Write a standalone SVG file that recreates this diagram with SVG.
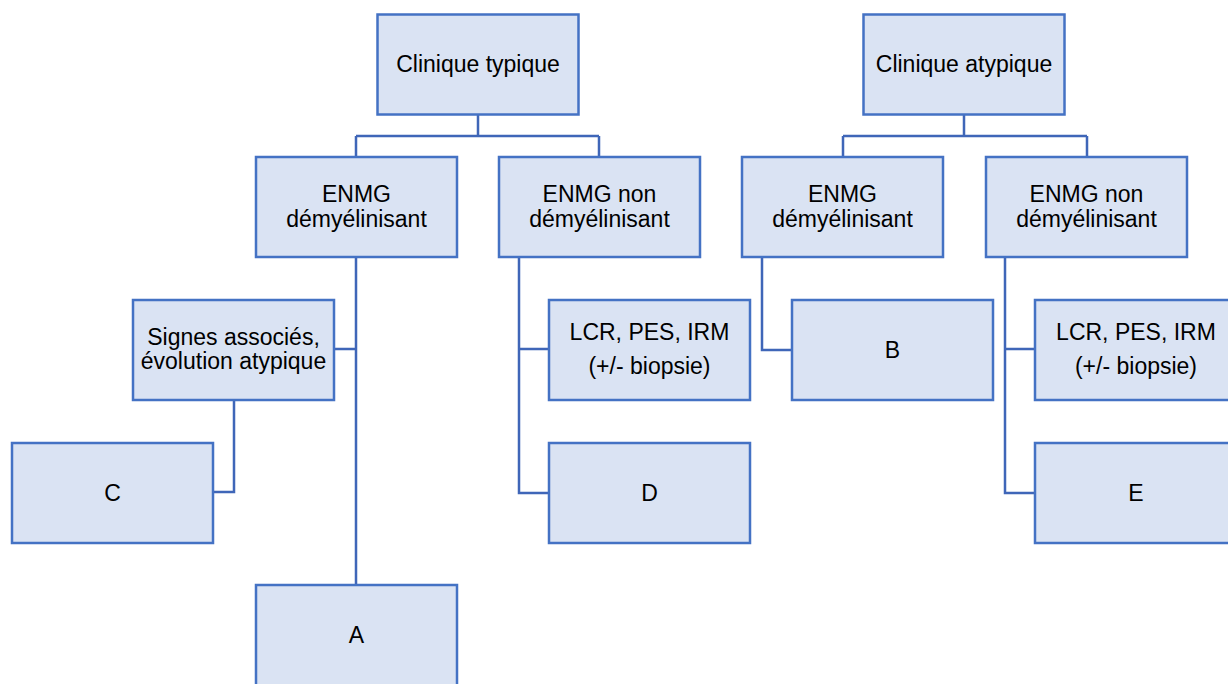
<svg xmlns="http://www.w3.org/2000/svg" width="1228" height="684" viewBox="0 0 1228 684">
<style>
.box{fill:#dae3f3;stroke:#4472c4;stroke-width:2.5}
.t{font-family:"Liberation Sans",Arial,sans-serif;font-size:23px;fill:#000;text-anchor:middle}
.c{fill:none;stroke:#3f66b8;stroke-width:2.5}
</style>
<rect width="1228" height="684" fill="#fff"/>
<g id="connectors">
<path class="c" d="M478 115 V136 M356 136 H599 M356 136 V157 M599 136 V157"/>
<path class="c" d="M964 115 V136 M843 136 H1087 M843 136 V157 M1087 136 V157"/>
<path class="c" d="M356 257 V585 M356 349 H334"/>
<path class="c" d="M234 400 V492 H213"/>
<path class="c" d="M519 257 V493 H549 M519 349 H549"/>
<path class="c" d="M762 257 V350 H792"/>
<path class="c" d="M1005 257 V493 H1035 M1005 349 H1035"/>
</g>
<g id="clinique-typique"><rect class="box" x="377.5" y="14.5" width="201" height="100"/><text class="t" x="478" y="72">Clinique typique</text></g>
<g id="clinique-atypique"><rect class="box" x="863.5" y="14.5" width="201" height="100"/><text class="t" x="964" y="72">Clinique atypique</text></g>
<g id="enmg-dem-1"><rect class="box" x="256" y="157" width="201" height="100"/><text class="t" x="356.5" y="202">ENMG</text><text class="t" x="356.5" y="227">démyélinisant</text></g>
<g id="enmg-nondem-1"><rect class="box" x="499" y="157" width="201" height="100"/><text class="t" x="599.5" y="202">ENMG non</text><text class="t" x="599.5" y="227">démyélinisant</text></g>
<g id="enmg-dem-2"><rect class="box" x="742" y="157" width="201" height="100"/><text class="t" x="842.5" y="202">ENMG</text><text class="t" x="842.5" y="227">démyélinisant</text></g>
<g id="enmg-nondem-2"><rect class="box" x="986" y="157" width="201" height="100"/><text class="t" x="1086.5" y="202">ENMG non</text><text class="t" x="1086.5" y="227">démyélinisant</text></g>
<g id="signes"><rect class="box" x="133" y="300" width="201" height="100"/><text class="t" x="233.5" y="345">Signes associés,</text><text class="t" x="233.5" y="369">évolution atypique</text></g>
<g id="C"><rect class="box" x="12" y="443" width="201" height="100"/><text class="t" x="112.5" y="501">C</text></g>
<g id="A"><rect class="box" x="256" y="585" width="201" height="110"/><text class="t" x="356.5" y="643">A</text></g>
<g id="lcr-1"><rect class="box" x="549" y="300" width="201" height="100"/><text class="t" x="649.5" y="340">LCR, PES, IRM</text><text class="t" x="649.5" y="374">(+/- biopsie)</text></g>
<g id="D"><rect class="box" x="549" y="443" width="201" height="100"/><text class="t" x="649.5" y="501">D</text></g>
<g id="B"><rect class="box" x="792" y="300" width="201" height="100"/><text class="t" x="892.5" y="358">B</text></g>
<g id="lcr-2"><rect class="box" x="1035" y="300" width="201" height="100"/><text class="t" x="1136" y="340">LCR, PES, IRM</text><text class="t" x="1136" y="374">(+/- biopsie)</text></g>
<g id="E"><rect class="box" x="1035" y="443" width="201" height="100"/><text class="t" x="1136" y="501">E</text></g>
</svg>
